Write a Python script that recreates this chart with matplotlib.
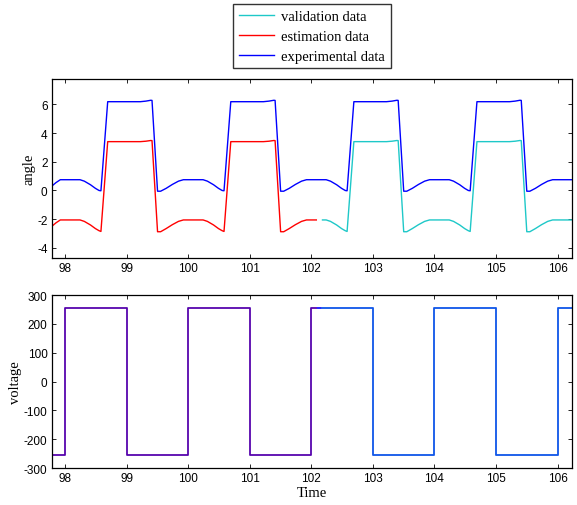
import matplotlib
matplotlib.use('Agg')
from matplotlib import pyplot as plt

# angle data (time, value)
exp_t = [97.78, 97.85, 97.92, 98.24, 98.31, 98.41, 98.49, 98.55, 98.58, 98.69,
         99.22, 99.31, 99.39, 99.41, 99.50, 99.55, 99.64, 99.74, 99.84, 99.92,
         100.24, 100.31, 100.41, 100.49, 100.55, 100.58, 100.69,
         101.22, 101.31, 101.39, 101.41, 101.50, 101.55, 101.64, 101.74, 101.84, 101.92,
         102.24, 102.31, 102.41, 102.49, 102.55, 102.58, 102.69,
         103.22, 103.31, 103.39, 103.41, 103.50, 103.55, 103.64, 103.74, 103.84, 103.92,
         104.24, 104.31, 104.41, 104.49, 104.55, 104.58, 104.69,
         105.22, 105.31, 105.39, 105.41, 105.50, 105.55, 105.64, 105.74, 105.84, 105.92,
         106.24]
exp_angle = [0.30, 0.55, 0.75, 0.75, 0.65, 0.40, 0.15, 0.00, -0.02, 6.18,
             6.18, 6.22, 6.28, 6.27, -0.05, -0.05, 0.15, 0.42, 0.65, 0.75,
             0.75, 0.65, 0.40, 0.15, 0.00, -0.02, 6.18,
             6.18, 6.22, 6.28, 6.27, -0.05, -0.05, 0.15, 0.42, 0.65, 0.75,
             0.75, 0.65, 0.40, 0.15, 0.00, -0.02, 6.18,
             6.18, 6.22, 6.28, 6.27, -0.05, -0.05, 0.15, 0.42, 0.65, 0.75,
             0.75, 0.65, 0.40, 0.15, 0.00, -0.02, 6.18,
             6.18, 6.22, 6.28, 6.27, -0.05, -0.05, 0.15, 0.42, 0.65, 0.75,
             0.75]

est_t = [97.78, 97.85, 97.92, 98.24, 98.31, 98.41, 98.49, 98.55, 98.58, 98.69,
         99.22, 99.31, 99.39, 99.41, 99.50, 99.55, 99.64, 99.74, 99.84, 99.92,
         100.24, 100.31, 100.41, 100.49, 100.55, 100.58, 100.69,
         101.22, 101.31, 101.39, 101.41, 101.50, 101.55, 101.64, 101.74, 101.84, 101.92,
         102.08]
est_angle = [-2.50, -2.25, -2.05, -2.05, -2.15, -2.40, -2.65, -2.80, -2.85, 3.40,
             3.40, 3.43, 3.48, 3.47, -2.87, -2.87, -2.65, -2.38, -2.15, -2.05,
             -2.05, -2.15, -2.40, -2.65, -2.80, -2.85, 3.40,
             3.40, 3.43, 3.48, 3.47, -2.87, -2.87, -2.65, -2.38, -2.15, -2.05,
             -2.05]

val_t = [102.18, 102.24, 102.31, 102.41, 102.49, 102.55, 102.58, 102.69,
         103.22, 103.31, 103.39, 103.41, 103.50, 103.55, 103.64, 103.74, 103.84, 103.92,
         104.24, 104.31, 104.41, 104.49, 104.55, 104.58, 104.69,
         105.22, 105.31, 105.39, 105.41, 105.50, 105.55, 105.64, 105.74, 105.84, 105.92,
         106.24]
val_angle = [-2.05, -2.05, -2.15, -2.40, -2.65, -2.80, -2.85, 3.40,
             3.40, 3.43, 3.48, 3.47, -2.87, -2.87, -2.65, -2.38, -2.15, -2.05,
             -2.05, -2.15, -2.40, -2.65, -2.80, -2.85, 3.40,
             3.40, 3.43, 3.48, 3.47, -2.87, -2.87, -2.65, -2.38, -2.15, -2.05,
             -2.05]

# voltage square wave, switch times and levels (steps-post)
exp_vt = [97.78, 98, 99, 100, 101, 102, 103, 104, 105, 106, 106.24]
exp_volt = [-255, 255, -255, 255, -255, 255, -255, 255, -255, 255, 255]
est_vt = [97.78, 98, 99, 100, 101, 102, 102.08]
est_volt = [-255, 255, -255, 255, -255, 255, 255]
val_vt = [102.18, 103, 104, 105, 106, 106.24]
val_volt = [255, -255, 255, -255, 255, 255]

xticks = [98, 99, 100, 101, 102, 103, 104, 105, 106]

c_val = '#1ec8c8'
c_est = '#ff0000'
c_exp = '#0000ff'

plt.rcParams['font.family'] = 'Liberation Sans'
plt.rcParams['font.size'] = 8.5
plt.rcParams['axes.unicode_minus'] = False

fig = plt.figure(figsize=(5.77, 5.06), dpi=100)
ax1 = fig.add_axes([0.0896, 0.4881, 0.9023, 0.3538])
ax2 = fig.add_axes([0.0896, 0.0731, 0.9023, 0.3419])

# top: angle
l_val, = ax1.plot(val_t, val_angle, color=c_val, lw=1.0)
l_est, = ax1.plot(est_t, est_angle, color=c_est, lw=1.0)
l_exp, = ax1.plot(exp_t, exp_angle, color=c_exp, lw=1.0)
ax1.set_ylim(-4.7, 7.76)
ax1.set_yticks([-4, -2, 0, 2, 4, 6])
ax1.set_ylabel('angle', family='Liberation Serif', fontsize=10.5, labelpad=1)

# bottom: voltage
ax2.plot(exp_vt, exp_volt, color=c_exp, lw=1.2, drawstyle='steps-post')
ax2.plot(est_vt, est_volt, color=c_est, lw=1.2, alpha=0.35, drawstyle='steps-post')
ax2.plot(val_vt, val_volt, color=c_val, lw=1.2, alpha=0.45, drawstyle='steps-post')
ax2.set_ylim(-300, 300)
ax2.set_yticks([-300, -200, -100, 0, 100, 200, 300])
ax2.set_ylabel('voltage', family='Liberation Serif', fontsize=10.5, labelpad=1)
ax2.set_xlabel('Time', family='Liberation Serif', fontsize=10.5, labelpad=1)

for ax in (ax1, ax2):
    ax.set_xlim(97.78, 106.24)
    ax.set_xticks(xticks)
    ax.tick_params(direction='in', length=3, width=0.6, top=True, right=True, pad=3)
    for s in ax.spines.values():
        s.set_linewidth(0.9)

leg = fig.legend([l_val, l_est, l_exp],
                 ['validation data', 'estimation data', 'experimental data'],
                 loc='upper center', bbox_to_anchor=(0.541, 0.99),
                 prop={'family': 'Liberation Serif', 'size': 10.5},
                 frameon=True, fancybox=False, edgecolor='black',
                 handlelength=2.4, handletextpad=0.5, labelspacing=0.45,
                 borderpad=0.4, borderaxespad=0)
leg.get_frame().set_linewidth(1.0)

fig.savefig('out.png', dpi=100)
